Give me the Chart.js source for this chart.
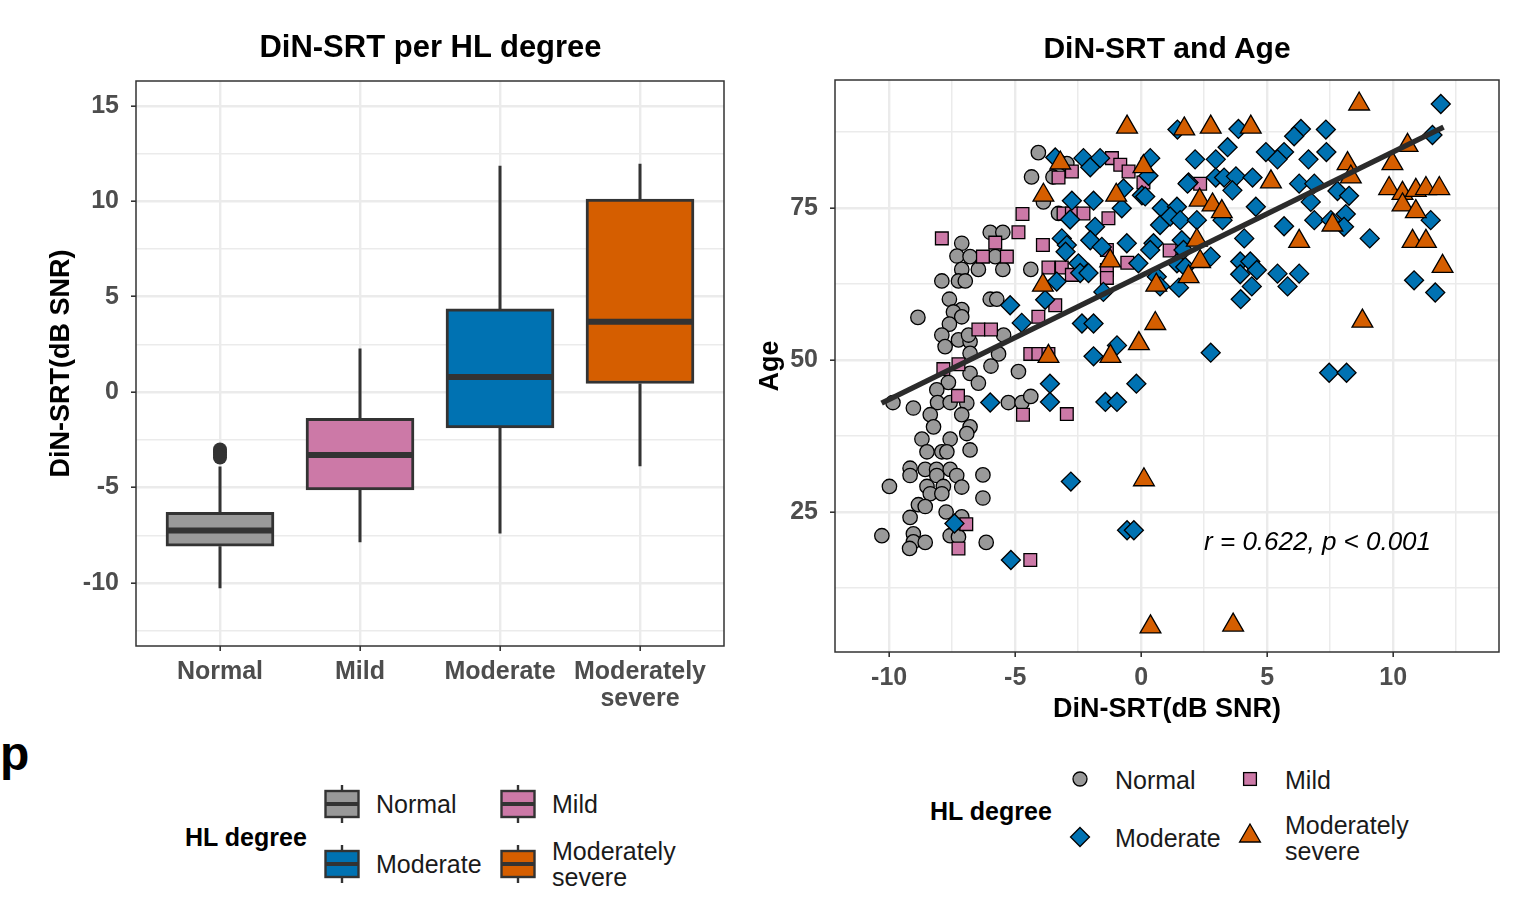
<!DOCTYPE html>
<html>
<head>
<meta charset="utf-8">
<title>DiN-SRT per HL degree / DiN-SRT and Age</title>
<script src="https://cdn.jsdelivr.net/npm/chart.js@4.4.1/dist/chart.umd.min.js"></script>
<style>
  html, body { margin:0; padding:0; background:#ffffff; }
  body { width:1531px; height:900px; position:relative; overflow:hidden; font-family:"Liberation Sans", Arial, sans-serif; }
  canvas { position:absolute; top:0; }
  .txt { position:absolute; white-space:nowrap; }
  .key { position:absolute; }
</style>
</head>
<body>
<canvas id="boxCanvas" width="760" height="720" style="left:0px"></canvas>
<canvas id="scatterCanvas" width="781" height="740" style="left:750px"></canvas>
<div id="overlay"></div>
<script>
// ================= DATA =================
const hlCategories = ['Normal', 'Mild', 'Moderate', 'Moderately severe'];
const hlColors = ['#999999', '#CC79A7', '#0072B2', '#D55E00'];

// --- left panel: box plot summary (DiN-SRT, dB SNR) ---
const boxTickLabels = [['Normal'], ['Mild'], ['Moderate'], ['Moderately', 'severe']];
const boxPositions = [1, 2, 3, 4];
const boxLowerWhisker = [-10.27, -7.86, -7.40, -3.88];
const boxQ1 = [-8.07, -5.12, -1.87, 0.45];
const boxMedian = [-7.25, -3.29, 0.79, 3.69];
const boxQ3 = [-6.30, -1.37, 4.36, 10.12];
const boxUpperWhisker = [-3.9, 2.28, 11.86, 11.97];
const normalOutliers = [-3.0, -3.15, -3.3, -3.43];
const boxYMajorTicks = [-10, -5, 0, 5, 10, 15];
const boxYMinorTicks = [-12.5, -7.5, -2.5, 2.5, 7.5, 12.5];

// --- right panel: DiN-SRT (x) vs Age (y) ---
const normalPts = [
  [-4.08,84.1],[-2.95,82.3],[-4.35,80.1],[-3.5,80.1],[-3.88,76.0],[-3.28,74.1],
  [-7.12,69.2],[-5.99,71.0],[-5.49,71.0],[-7.31,67.1],[-6.79,67.0],[-5.79,67.0],
  [-7.12,64.9],[-6.46,64.9],[-5.49,64.9],[-4.38,64.9],[-7.91,63.0],[-7.25,63.0],[-6.98,63.0],
  [-7.61,60.0],[-5.99,60.0],[-5.73,60.0],[-8.86,57.0],[-7.12,58.3],[-7.45,57.9],[-7.12,57.1],
  [-7.61,55.9],[-7.91,54.1],[-7.25,53.3],[-6.79,53.0],[-6.85,54.1],[-5.46,54.1],[-7.78,52.2],
  [-6.79,51.1],[-5.66,51.0],[-5.96,49.0],[-6.79,47.8],[-4.87,48.1],[-7.65,46.3],[-6.46,46.2],
  [-8.11,45.1],[-9.85,43.0],[-9.04,42.1],[-8.08,43.0],[-7.58,43.0],[-6.92,42.9],[-5.27,43.0],
  [-4.73,43.0],[-4.38,44.0],[-8.37,41.0],[-7.12,41.0],[-8.24,39.0],[-6.79,39.0],[-8.70,37.0],
  [-7.58,37.0],[-6.92,37.9],[-8.5,34.9],[-7.91,34.9],[-7.71,34.9],[-6.79,35.2],[-9.17,32.2],
  [-8.57,32.0],[-8.12,32.0],[-7.58,32.0],[-9.17,31.0],[-8.11,31.0],[-7.32,31.0],[-6.28,31.1],
  [-9.99,29.2],[-8.5,29.2],[-7.85,29.2],[-7.12,29.1],[-8.37,28.0],[-7.91,28.0],[-6.28,27.3],
  [-8.84,26.2],[-8.57,25.9],[-9.17,24.1],[-7.74,25.0],[-7.12,24.2],[-10.29,21.1],[-9.04,21.4],
  [-9.04,20.1],[-8.57,20.0],[-9.19,19.0],[-7.58,21.1],[-7.25,20.9],[-6.15,20.0]
];
const mildPts = [
  [-2.75,81.0],[-3.28,80.0],[-1.16,83.2],[-0.83,82.1],[-0.50,81.0],[0.09,79.2],[2.34,79.0],
  [-4.71,74.0],[-3.08,74.1],[-2.75,74.1],[-2.29,74.1],[-1.30,73.3],[-7.91,70.0],[-4.87,71.0],
  [-5.79,69.3],[-6.28,67.0],[-5.33,67.0],[-3.90,68.9],[-1.36,68.1],[1.13,68.0],[-0.55,66.0],
  [-3.68,65.2],[-3.15,65.2],[-2.75,64.0],[-1.36,64.8],[-1.36,63.5],[-3.41,59.0],[-4.08,57.1],
  [-6.46,55.0],[-5.96,55.0],[-4.40,51.0],[-4.08,51.0],[-3.68,51.0],[-7.25,49.3],[-7.85,48.5],
  [-7.27,44.1],[-4.69,41.0],[-2.95,41.1],[-6.94,23.0],[-7.25,19.0],[-4.40,17.1]
];
const moderatePts = [
  [-3.41,83.3],[-2.29,83.2],[-1.63,83.2],[-2.02,81.7],[0.36,83.2],[0.29,80.3],[2.14,83.0],[1.88,79.2],
  [-2.75,76.2],[-1.89,76.2],[-0.70,78.2],[0.03,77.1],[0.16,76.9],[0.82,74.95],[1.42,75.2],
  [-2.82,73.1],[-0.77,74.95],[-1.83,71.9],[0.75,72.2],[-3.15,70.0],[-2.95,68.9],[-3.0,67.8],
  [-2.02,69.7],[-1.56,68.6],[-0.57,69.2],[0.49,69.2],[0.36,68.1],[1.61,69.7],[1.68,68.1],
  [-0.11,65.9],[1.42,65.9],[1.75,65.3],[-2.49,65.9],[-3.35,62.9],[-2.42,64.3],[-2.09,64.3],
  [0.62,63.7],[0.75,62.1],[1.50,61.9],[-1.50,61.2],[-3.81,59.9],[-5.2,59.0],[-4.74,56.1],
  [-2.35,56.0],[-1.89,56.0],
  [-5.99,43.0],[-3.62,46.1],[-3.62,43.1],[-1.42,43.1],[-0.96,43.1],[-0.19,46.1],[-1.89,50.6],
  [-0.96,52.4],[-2.79,30.0],[-0.56,22.0],[-0.29,22.0],[-7.41,23.1],[-5.17,17.1],[2.76,51.2],
  [11.89,92.1],[1.44,87.9],[3.86,88.0],[6.34,88.0],[6.07,86.8],[7.33,87.9],[3.43,85.0],
  [2.96,83.0],[4.95,84.2],[5.67,84.2],[5.41,83.0],[6.64,83.0],[7.35,84.2],[11.56,87.0],
  [1.84,79.0],[2.96,80.0],[3.29,80.0],[3.76,80.2],[3.62,77.9],[4.42,80.0],[6.27,79.0],
  [6.87,79.0],[7.79,77.8],[8.25,77.0],[11.49,73.0],[10.83,63.1],[11.67,61.1],[6.73,76.0],
  [6.87,73.0],[7.53,73.0],[8.12,74.0],[8.05,71.9],[9.07,70.0],[4.55,75.2],[5.67,72.0],
  [4.09,70.0],[3.93,66.2],[4.33,66.2],[4.59,64.8],[3.93,64.1],[4.39,62.1],[3.95,60.0],
  [5.41,64.2],[6.27,64.2],[5.81,62.1],[1.15,73.6],[1.55,73.0],[2.21,73.0],[3.23,73.0],
  [2.76,67.0],[7.46,47.9],[8.15,47.9]
];
const modSeverePts = [
  [-0.56,88.3],[-3.21,82.4],[0.09,81.8],[-3.88,77.1],[-0.99,77.1],[-1.23,66.3],[2.21,69.7],
  [2.34,66.2],[1.88,63.7],[-3.9,62.3],[0.60,62.3],[0.56,56.0],[-3.68,50.6],[-1.22,50.6],
  [-0.09,52.7],[0.11,30.3],[0.37,6.1],[3.65,6.4],[8.65,92.1],[1.71,88.0],[2.76,88.3],
  [4.35,88.3],[8.19,82.3],[8.32,80.1],[10.57,85.3],[9.97,82.3],[5.15,79.3],[9.84,78.2],
  [10.37,77.4],[10.9,77.9],[11.3,78.2],[11.83,78.2],[10.37,75.5],[10.9,74.4],[10.77,69.5],
  [11.3,69.5],[11.96,65.4],[8.78,56.4],[7.59,72.2],[6.27,69.5],[2.32,76.3],[2.83,75.5],
  [3.2,74.4]
];
const fitLineX = [-10.3, 12.0];
const fitLineY = [42.9, 88.3];
const corrLabel = 'r = 0.622, p < 0.001';
const corrLabelX = 7.0;
const corrLabelY = 20.0;
const scatterXMajorTicks = [-10, -5, 0, 5, 10];
const scatterXMinorTicks = [-7.5, -2.5, 2.5, 7.5, 12.5];
const scatterYMajorTicks = [25, 50, 75];
const scatterYMinorTicks = [12.5, 37.5, 62.5, 87.5];

// ================= STYLE / HELPERS =================
const FONT = '"Liberation Sans", Arial, sans-serif';
Chart.defaults.font.family = FONT;
Chart.defaults.devicePixelRatio = 1;

function tickSetter(major, minor) {
  return scale => {
    scale.ticks = major.concat(minor).sort((a, b) => a - b).map(v => ({ value: v }));
  };
}
function gridStyle(major) {
  const isMajor = c => c.tick && major.includes(c.tick.value);
  return {
    color: '#EBEBEB',
    lineWidth: c => isMajor(c) ? 2.4 : 1.5,
    drawTicks: true,
    tickLength: 5,
    tickWidth: 1.6,
    tickColor: c => isMajor(c) ? '#333333' : 'rgba(0,0,0,0)'
  };
}
const tickFont = { size: 25, weight: 'bold', lineHeight: 1.1 };
const titleFont = { size: 27, weight: 'bold', lineHeight: 1 };

const panelBorder = {
  id: 'panelBorder',
  afterDatasetsDraw(chart) {
    const a = chart.chartArea, c = chart.ctx;
    c.save();
    c.strokeStyle = '#333333';
    c.lineWidth = 1.5;
    c.strokeRect(a.left, a.top, a.right - a.left, a.bottom - a.top);
    c.restore();
  }
};
const corrText = {
  id: 'corrText',
  afterDatasetsDraw(chart) {
    const c = chart.ctx, xs = chart.scales.x, ys = chart.scales.y;
    c.save();
    c.font = 'italic 26px ' + FONT;
    c.fillStyle = '#000000';
    c.textAlign = 'center';
    c.textBaseline = 'middle';
    c.fillText(corrLabel, xs.getPixelForValue(corrLabelX), ys.getPixelForValue(corrLabelY));
    c.restore();
  }
};

// ================= LEFT: BOX PLOT =================
const whiskerData = [];
boxPositions.forEach((p, i) => {
  whiskerData.push({x: p, y: boxLowerWhisker[i]}, {x: p, y: boxQ1[i]}, {x: p, y: null},
                   {x: p, y: boxQ3[i]}, {x: p, y: boxUpperWhisker[i]}, {x: p, y: null});
});
const medianData = [];
boxPositions.forEach((p, i) => {
  medianData.push({x: p - 0.38, y: boxMedian[i]}, {x: p + 0.38, y: boxMedian[i]}, {x: p, y: null});
});

new Chart(document.getElementById('boxCanvas'), {
  type: 'bar',
  data: {
    datasets: [
      { type: 'line', data: whiskerData, borderColor: '#333333', borderWidth: 3,
        pointRadius: 0, spanGaps: false, fill: false, order: 3 },
      { type: 'bar', label: 'HL degree',
        data: boxPositions.map((p, i) => ({x: p, y: [boxQ1[i], boxQ3[i]]})),
        backgroundColor: hlColors, borderColor: '#333333', borderWidth: 3,
        borderSkipped: false, barThickness: 108, order: 2 },
      { type: 'line', data: medianData, borderColor: '#333333', borderWidth: 6,
        borderCapStyle: 'butt', pointRadius: 0, spanGaps: false, fill: false, order: 1 },
      { type: 'scatter', data: normalOutliers.map(v => ({x: boxPositions[0], y: v})),
        pointRadius: 7, backgroundColor: '#333333', borderColor: '#333333', borderWidth: 0, order: 0 }
    ]
  },
  options: {
    responsive: false, animation: false, events: [],
    layout: { padding: { left: 0, top: 81, right: 36, bottom: 0 } },
    plugins: { legend: { display: false }, tooltip: { enabled: false } },
    scales: {
      x: {
        type: 'linear', min: 0.4, max: 4.6, offset: false,
        afterBuildTicks: tickSetter(boxPositions, []),
        afterFit: s => { s.height = 74; },
        ticks: { callback: v => { const i = boxPositions.indexOf(v); return i >= 0 ? boxTickLabels[i] : ''; },
                 font: tickFont, color: '#4D4D4D', padding: 7, maxRotation: 0, minRotation: 0, autoSkip: false },
        grid: Object.assign(gridStyle(boxPositions), { offset: false }),
        border: { display: false }
      },
      y: {
        type: 'linear', min: -13.3, max: 16.3,
        afterBuildTicks: tickSetter(boxYMajorTicks, boxYMinorTicks),
        afterFit: s => { s.width = 136; },
        ticks: { callback: v => boxYMajorTicks.includes(v) ? String(v) : '',
                 font: tickFont, color: '#4D4D4D', padding: 12, autoSkip: false },
        grid: gridStyle(boxYMajorTicks),
        border: { display: false },
        title: { display: true, text: 'DiN-SRT(dB SNR)', color: '#000000', font: titleFont,
                 padding: { top: 48.5, bottom: 0 } }
      }
    }
  },
  plugins: [panelBorder]
});

// ================= RIGHT: SCATTER =================
const toXY = arr => arr.map(p => ({x: p[0], y: p[1]}));
const pointCommon = { borderColor: '#000000', borderWidth: 1.3 };

new Chart(document.getElementById('scatterCanvas'), {
  type: 'scatter',
  data: {
    datasets: [
      Object.assign({ label: hlCategories[0], data: toXY(normalPts), pointStyle: 'circle', pointRadius: 7.2,
        backgroundColor: hlColors[0], order: 4 }, pointCommon),
      Object.assign({ label: hlCategories[1], data: toXY(mildPts), pointStyle: 'rect', pointRadius: 9,
        backgroundColor: hlColors[1], order: 3 }, pointCommon),
      Object.assign({ label: hlCategories[2], data: toXY(moderatePts), pointStyle: 'rectRot', pointRadius: 9.5,
        backgroundColor: hlColors[2], order: 2 }, pointCommon),
      Object.assign({ label: hlCategories[3], data: toXY(modSeverePts), pointStyle: 'triangle', pointRadius: 12,
        backgroundColor: hlColors[3], order: 1 }, pointCommon),
      { type: 'line', label: 'fit', data: fitLineX.map((x, i) => ({x: x, y: fitLineY[i]})),
        borderColor: '#2B2B2B', borderWidth: 5.5, borderCapStyle: 'butt', pointRadius: 0, fill: false, order: 0 }
    ]
  },
  options: {
    responsive: false, animation: false, events: [],
    layout: { padding: { left: 0, top: 80, right: 32, bottom: 0 } },
    plugins: { legend: { display: false }, tooltip: { enabled: false } },
    scales: {
      x: {
        type: 'linear', min: -12.15, max: 14.2,
        afterBuildTicks: tickSetter(scatterXMajorTicks, scatterXMinorTicks),
        afterFit: s => { s.height = 88; },
        ticks: { callback: v => scatterXMajorTicks.includes(v) ? String(v) : '',
                 font: tickFont, color: '#4D4D4D', padding: 7, maxRotation: 0, minRotation: 0, autoSkip: false },
        grid: gridStyle(scatterXMajorTicks),
        border: { display: false },
        title: { display: true, text: 'DiN-SRT(dB SNR)', color: '#000000', font: titleFont,
                 padding: { top: 0, bottom: 16.5 } }
      },
      y: {
        type: 'linear', min: 1.97, max: 96.05,
        afterBuildTicks: tickSetter(scatterYMajorTicks, scatterYMinorTicks),
        afterFit: s => { s.width = 85; },
        ticks: { callback: v => scatterYMajorTicks.includes(v) ? String(v) : '',
                 font: tickFont, color: '#4D4D4D', padding: 12, autoSkip: false },
        grid: gridStyle(scatterYMajorTicks),
        border: { display: false },
        title: { display: true, text: 'Age', color: '#000000', font: titleFont,
                 padding: { top: 7.5, bottom: 0 } }
      }
    }
  },
  plugins: [panelBorder, corrText]
});

// ================= TITLES & LEGENDS (HTML) =================
const overlay = document.getElementById('overlay');
function addText(text, x, cy, size, opts) {
  opts = opts || {};
  const d = document.createElement('div');
  d.className = 'txt';
  const lh = opts.lh || Math.round(size * 1.15);
  const lines = Array.isArray(text) ? text : [text];
  d.innerHTML = lines.join('<br>');
  d.style.fontSize = size + 'px';
  d.style.lineHeight = lh + 'px';
  d.style.fontWeight = opts.bold ? 'bold' : 'normal';
  d.style.color = opts.color || '#1A1A1A';
  d.style.top = (cy - lh / 2) + 'px';
  d.style.left = x + 'px';
  if (opts.center) d.style.transform = 'translateX(-50%)';
  overlay.appendChild(d);
}
function addKey(svg, cx, cy, w, h) {
  const d = document.createElement('div');
  d.className = 'key';
  d.style.left = (cx - w / 2) + 'px';
  d.style.top = (cy - h / 2) + 'px';
  d.innerHTML = svg;
  overlay.appendChild(d);
}

addText('DiN-SRT per HL degree', 430.5, 47, 31, { bold: true, center: true, color: '#000' });
addText('DiN-SRT and Age', 1167, 47, 30, { bold: true, center: true, color: '#000' });
addText('p', 0, 754, 48, { bold: true, color: '#000', lh: 48 });

// left legend (box keys)
function boxKeySvg(color) {
  return '<svg width="36" height="38" xmlns="http://www.w3.org/2000/svg">' +
    '<line x1="18" y1="0" x2="18" y2="38" stroke="#333333" stroke-width="2.4"/>' +
    '<rect x="1.5" y="6" width="33" height="26" fill="' + color + '" stroke="#333333" stroke-width="2.4"/>' +
    '<line x1="1.5" y1="19" x2="34.5" y2="19" stroke="#333333" stroke-width="4"/></svg>';
}
addText('HL degree', 185, 837, 25, { bold: true, color: '#000' });
const leftKeyPos = [[342, 804], [518, 804], [342, 864], [518, 864]];
const leftLabels = [['Normal'], ['Mild'], ['Moderate'], ['Moderately', 'severe']];
leftKeyPos.forEach((p, i) => {
  addKey(boxKeySvg(hlColors[i]), p[0], p[1], 36, 38);
  const lines = leftLabels[i];
  addText(lines, p[0] + 34, p[1] - (lines.length - 1) * 13, 25, { lh: 26 });
});

// right legend (point keys)
function shapeSvg(kind, color) {
  let s = '<svg width="28" height="28" xmlns="http://www.w3.org/2000/svg">';
  const st = ' fill="' + color + '" stroke="#000" stroke-width="1.3"';
  if (kind === 'circle') s += '<circle cx="14" cy="14" r="7"' + st + '/>';
  if (kind === 'rect') s += '<rect x="7.6" y="7.6" width="12.8" height="12.8"' + st + '/>';
  if (kind === 'rectRot') s += '<polygon points="14,4.5 23.5,14 14,23.5 4.5,14"' + st + '/>';
  if (kind === 'triangle') s += '<polygon points="14,2 24.4,20 3.6,20"' + st + '/>';
  return s + '</svg>';
}
addText('HL degree', 930, 811, 25, { bold: true, color: '#000' });
const rightKeyPos = [[1080, 779], [1250, 779], [1080, 837], [1250, 836]];
const rightShapes = ['circle', 'rect', 'rectRot', 'triangle'];
const rightLabels = [['Normal'], ['Mild'], ['Moderate'], ['Moderately', 'severe']];
rightKeyPos.forEach((p, i) => {
  addKey(shapeSvg(rightShapes[i], hlColors[i]), p[0], p[1], 28, 28);
  const lines = rightLabels[i];
  const cy = i === 3 ? 838 : p[1] + 1;
  addText(lines, p[0] + 35, cy - (lines.length - 1) * 13, 25, { lh: 26 });
});
</script>
</body>
</html>
